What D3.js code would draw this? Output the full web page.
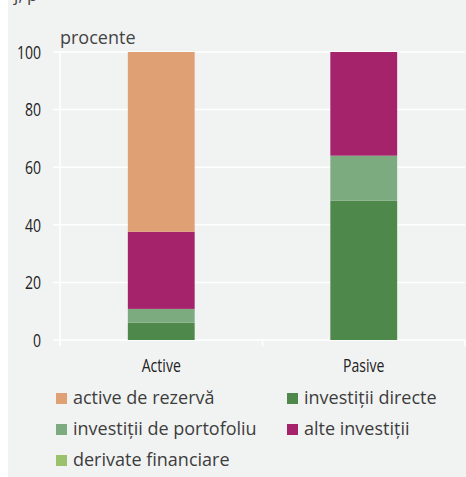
<!DOCTYPE html>
<html>
<head>
<meta charset="utf-8">
<script src="https://cdn.jsdelivr.net/npm/d3@7"></script>
<style>
  html, body { margin: 0; padding: 0; background: #ffffff; }
  svg { display: block; }
</style>
</head>
<body>
<script>
// ---- data ----
const categories = ["Active", "Pasive"];
const seriesNames = ["investiții directe", "investiții de portofoliu", "derivate financiare", "alte investiții", "active de rezervă"];
const directe    = [6.0, 48.4];
const portofoliu = [4.8, 15.6];
const derivate   = [0.0, 0.0];
const alte       = [26.8, 36.0];
const rezerva    = [62.4, 0.0];
const yTicks = [0, 20, 40, 60, 80, 100];
const unitLabel = "procente";
const legendOrder = ["active de rezervă", "investiții directe", "investiții de portofoliu", "alte investiții", "derivate financiare"];

const colors = {
  "investiții directe": "#4f884b",
  "investiții de portofoliu": "#7dab80",
  "derivate financiare": "#9bc16c",
  "alte investiții": "#a4236b",
  "active de rezervă": "#dfa173"
};

const rows = categories.map((c, i) => ({
  cat: c,
  "investiții directe": directe[i],
  "investiții de portofoliu": portofoliu[i],
  "derivate financiare": derivate[i],
  "alte investiții": alte[i],
  "active de rezervă": rezerva[i]
}));

const W = 466, H = 477;
const svg = d3.select("body").append("svg").attr("width", W).attr("height", H);

// background panel
svg.append("rect").attr("x", 8).attr("y", 0).attr("width", W - 8).attr("height", H).attr("fill", "#f1f3f2");

// clipped fragment of preceding title
svg.append("text").attr("x", 14).attr("y", 1)
  .attr("font-family", "'Open Sans', sans-serif").attr("font-size", 17).attr("fill", "#444")
  .text("j, p");

const x0 = 60, x1 = 465, yTop = 52, yBot = 340;
const x = d3.scaleBand().domain(categories).range([x0, x1]).paddingInner(0).paddingOuter(0);
const y = d3.scaleLinear().domain([0, 100]).range([yBot, yTop]);

const condensed = "'Open Sans', 'Noto Sans', sans-serif";
const sx = 0.74;

// gridlines
svg.append("g").selectAll("line").data(yTicks).join("line")
  .attr("x1", 53).attr("x2", x1).attr("y1", d => y(d)).attr("y2", d => y(d))
  .attr("stroke", "#ffffff").attr("stroke-width", 1.5);

// y axis vertical line
svg.append("line").attr("x1", x0).attr("x2", x0).attr("y1", yTop).attr("y2", yBot + 6)
  .attr("stroke", "#ffffff").attr("stroke-width", 1.5);

// x axis ticks (band edges)
const edges = [x0, ...categories.map(c => x(c) + x.bandwidth())];
svg.append("g").selectAll("line").data(edges).join("line")
  .attr("x1", d => d).attr("x2", d => d).attr("y1", yBot).attr("y2", yBot + 6)
  .attr("stroke", "#ffffff").attr("stroke-width", 1.5);

// y tick labels (condensed via horizontal scale)
svg.append("g").selectAll("text").data(yTicks).join("text")
  .attr("transform", d => `translate(41,${y(d)}) scale(${sx},1)`)
  .attr("dy", "0.36em")
  .attr("text-anchor", "end").attr("font-family", condensed).attr("font-size", 19)
  .attr("font-weight", 500)
  .attr("fill", "#222").text(d => d);

// unit label
svg.append("text").attr("x", 60).attr("y", 44)
  .attr("font-family", "'Open Sans', sans-serif").attr("font-size", 18).attr("fill", "#444")
  .text(unitLabel);

// stacked bars
const stack = d3.stack().keys(seriesNames)(rows);
const barW = x.bandwidth() * 0.33;
svg.append("g").selectAll("g").data(stack).join("g")
  .attr("fill", d => colors[d.key])
  .selectAll("rect").data(d => d).join("rect")
  .attr("x", d => x(d.data.cat) + (x.bandwidth() - barW) / 2)
  .attr("width", barW)
  .attr("y", d => y(d[1]))
  .attr("height", d => Math.max(0, y(d[0]) - y(d[1])));

// x labels
svg.append("g").selectAll("text").data(categories).join("text")
  .attr("transform", d => `translate(${x(d) + x.bandwidth() / 2},372) scale(${sx},1)`)
  .attr("text-anchor", "middle").attr("font-family", condensed).attr("font-size", 19)
  .attr("font-weight", 500)
  .attr("fill", "#222").text(d => d);

// legend
const legPos = [[56, 398], [287, 398], [56, 429], [287, 429], [56, 460]];
const lg = svg.append("g").selectAll("g").data(legendOrder).join("g")
  .attr("transform", (d, i) => `translate(${legPos[i][0]},${legPos[i][1]})`);
lg.append("rect").attr("x", 0).attr("y", -5).attr("width", 11).attr("height", 11)
  .attr("fill", d => colors[d]);
lg.append("text").attr("x", 17).attr("y", 0).attr("dy", "0.35em")
  .attr("font-family", "'Open Sans', sans-serif").attr("font-size", 18).attr("fill", "#3d3d3d")
  .text(d => d);
</script>
</body>
</html>
